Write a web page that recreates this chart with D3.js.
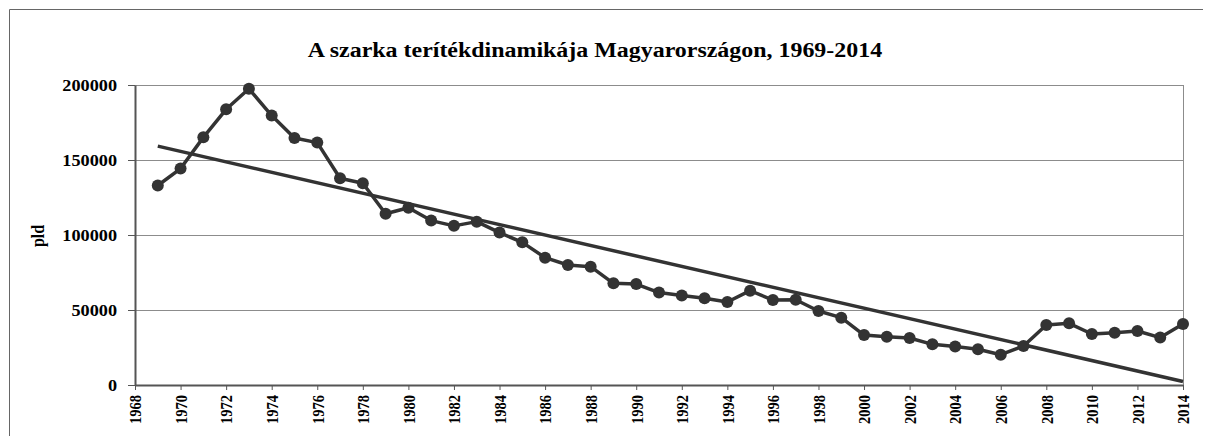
<!DOCTYPE html>
<html lang="hu">
<head>
  <meta charset="UTF-8">
  <title>A szarka terítékdinamikája</title>
  <script src="https://cdnjs.cloudflare.com/ajax/libs/d3/7.8.5/d3.min.js"></script>
  <style>
    body { margin: 0; background: #fff; }
    svg { display: block; }
    text { font-family: "Liberation Serif", "Times New Roman", serif; font-weight: bold; fill: #000; }
    .grid line { stroke: #8c8c8c; stroke-width: 1; }
    .axis path, .axis line { stroke: #555; }
  </style>
</head>
<body>
  <svg width="1205" height="436"></svg>
  <script>
    // évek és teríték (pld)
    var years = [1969, 1970, 1971, 1972, 1973, 1974, 1975, 1976, 1977, 1978,
                 1979, 1980, 1981, 1982, 1983, 1984, 1985, 1986, 1987, 1988,
                 1989, 1990, 1991, 1992, 1993, 1994, 1995, 1996, 1997, 1998,
                 1999, 2000, 2001, 2002, 2003, 2004, 2005, 2006, 2007, 2008,
                 2009, 2010, 2011, 2012, 2013, 2014]
    var catch_ = [133000, 144300, 165100, 183800, 197500, 179600, 164700, 161600, 137800, 134500,
                  114200, 118200, 109600, 106100, 108900, 101600, 95100, 84900, 80000, 78900,
                  67800, 67300, 61600, 59600, 57800, 55300, 62900, 56600, 56800, 49300,
                  44900, 33300, 32200, 31300, 27100, 25600, 23800, 20200, 26000, 40000,
                  41100, 34000, 34900, 36000, 31600, 40700]
    var yTicks = [0, 50000, 100000, 150000, 200000]
    var xTicks = [1968, 1970, 1972, 1974, 1976, 1978, 1980, 1982, 1984, 1986, 1988, 1990,
                  1992, 1994, 1996, 1998, 2000, 2002, 2004, 2006, 2008, 2010, 2012, 2014]

    var data = years.map((y, i) => ({ year: y, value: catch_[i] }))

    var svg = d3.select("svg")
    var m = { left: 135, right: 1183, top: 85, bottom: 385 }
    // az eredeti kép vízszintesen kissé nyújtott betűkkel készült
    var sx = 1.14

    var x = d3.scaleLinear().domain([1968, 2014]).range([m.left, m.right])
    var y = d3.scaleLinear().domain([0, 200000]).range([m.bottom, m.top])

    // külső keret
    svg.append("path")
       .attr("d", "M9.5,436V9.5H1203")
       .attr("fill", "none")
       .attr("stroke", "#666")

    // rácsvonalak
    svg.append("g").attr("class", "grid")
       .selectAll("line").data(yTicks.slice(1)).join("line")
       .attr("x1", m.left).attr("x2", m.right)
       .attr("y1", d => y(d) + 0.5).attr("y2", d => y(d) + 0.5)

    svg.append("line")
       .attr("x1", m.right + 0.5).attr("x2", m.right + 0.5)
       .attr("y1", m.top).attr("y2", m.bottom)
       .attr("stroke", "#8c8c8c")

    var yAxis = svg.append("g").attr("class", "axis")
       .attr("transform", `translate(${m.left},0)`)
       .call(d3.axisLeft(y).tickValues(yTicks).tickSize(7).tickSizeOuter(0).tickFormat(d => d))
    yAxis.select(".domain").attr("stroke-width", 2)
    yAxis.selectAll("text")
       .style("font-size", "16px")
       .attr("x", -18 / sx)
       .attr("transform", `scale(${sx},1)`)

    var xAxis = svg.append("g").attr("class", "axis")
       .attr("transform", `translate(0,${m.bottom})`)
       .call(d3.axisBottom(x).tickValues(xTicks).tickSize(5).tickSizeOuter(0).tickFormat(d => d))
    xAxis.select(".domain").attr("stroke-width", 2)
    xAxis.selectAll("text")
       .style("font-size", "14.5px")
       .attr("text-anchor", "end")
       .attr("y", 0).attr("dy", "0.35em")
       .attr("transform", `translate(0,10) scale(${sx},1) rotate(-90)`)

    // lineáris trend (legkisebb négyzetek)
    var mx = d3.mean(data, d => d.year), my = d3.mean(data, d => d.value)
    var slope = d3.sum(data, d => (d.year - mx) * (d.value - my)) / d3.sum(data, d => (d.year - mx) ** 2)
    var trend = [years[0], years[years.length - 1]].map(t => ({ year: t, value: my + slope * (t - mx) }))

    var line = d3.line().x(d => x(d.year)).y(d => y(d.value))

    svg.append("path").datum(trend)
       .attr("d", line)
       .attr("fill", "none").attr("stroke", "#333").attr("stroke-width", 3.5)

    svg.append("path").datum(data)
       .attr("d", line)
       .attr("fill", "none").attr("stroke", "#333").attr("stroke-width", 3.5)
       .attr("stroke-linejoin", "round")

    svg.append("g").selectAll("circle").data(data).join("circle")
       .attr("cx", d => x(d.year)).attr("cy", d => y(d.value))
       .attr("r", 6).attr("fill", "#333")

    svg.append("text")
       .attr("transform", `translate(595,57) scale(${sx},1)`)
       .attr("text-anchor", "middle")
       .style("font-size", "21px")
       .text("A szarka terítékdinamikája Magyarországon, 1969-2014")

    svg.append("text")
       .attr("transform", `translate(44,236) scale(${sx},1) rotate(-90)`)
       .attr("text-anchor", "middle")
       .style("font-size", "16px")
       .text("pld")
  </script>
</body>
</html>
